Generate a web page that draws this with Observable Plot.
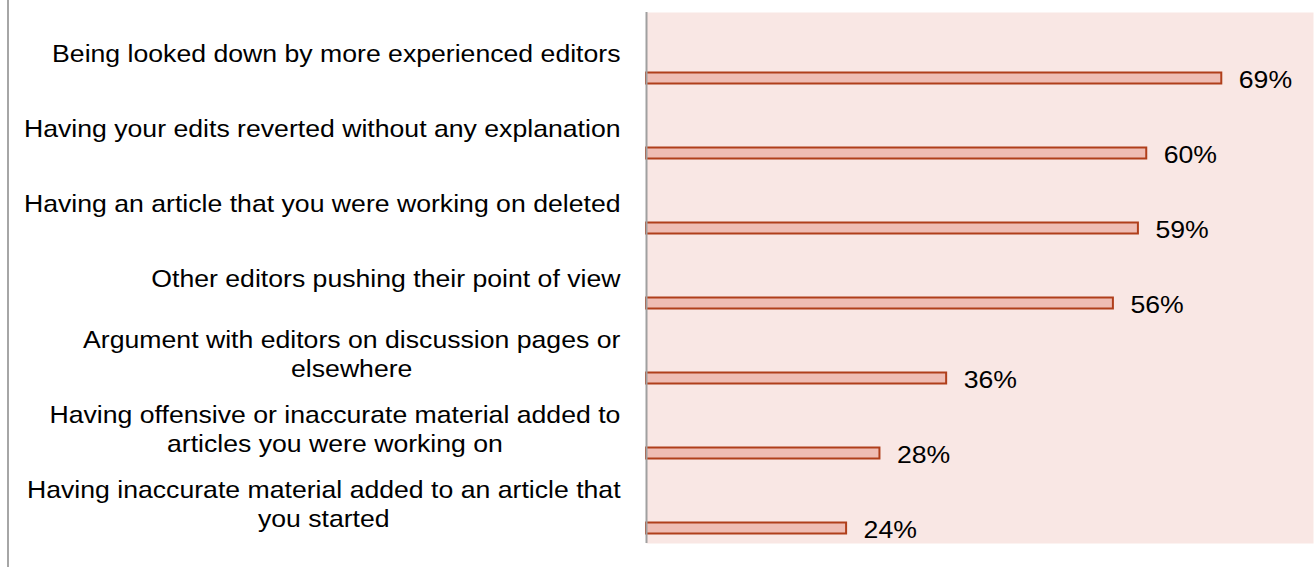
<!DOCTYPE html>
<html>
<head>
<meta charset="utf-8">
<script src="https://cdn.jsdelivr.net/npm/d3@7"></script>
<script src="https://cdn.jsdelivr.net/npm/@observablehq/plot@0.6"></script>
<style>
  body { margin: 0; background: #fff; }
  #wrap { position: relative; width: 1315px; height: 567px; }
  #leftline { position: absolute; left: 7px; top: 0; width: 2px; height: 567px; background: #a6a6a6; }
</style>
</head>
<body>
<div id="wrap"><div id="leftline"></div></div>
<script>
const categories = [
  "Being looked down by more experienced editors",
  "Having your edits reverted without any explanation",
  "Having an article that you were working on deleted",
  "Other editors pushing their point of view",
  "Argument with editors on discussion pages or\nelsewhere",
  "Having offensive or inaccurate material added to\narticles you were working on",
  "Having inaccurate material added to an article that\nyou started"
];
const values = [69, 60, 59, 56, 36, 28, 24];

const data = categories.map((c, i) => ({category: c, value: values[i]}));
const font = "Liberation Sans, Arial, sans-serif";

const chart = Plot.plot({
  width: 1315,
  height: 567,
  marginLeft: 646,
  marginRight: 2,
  marginTop: 12,
  marginBottom: 24,
  style: {fontFamily: font, background: "transparent"},
  x: {domain: [0, 80], axis: null},
  y: {domain: categories, padding: 0, axis: null},
  marks: [
    Plot.frame({fill: "#f9e7e4", stroke: null}),
    Plot.barX(data, {
      x: "value", y: "category",
      fill: "#efbdb4", stroke: "#b03f1b", strokeWidth: 2,
      insetTop: 57.5, insetBottom: 6.5
    }),
    Plot.ruleX([0], {stroke: "#a0a0a0", strokeWidth: 2}),
    Plot.text(data, {
      x: "value", y: "category", text: d => d.value + "%",
      textAnchor: "start", dx: 17, dy: 27.5, fontSize: 24, fill: "#000",
      className: "vallabels"
    }),
    Plot.text(data, {
      y: "category", text: "category", frameAnchor: "left",
      textAnchor: "end", dx: -26, fontSize: 24, lineHeight: 1.2, fill: "#000",
      className: "catlabels"
    })
  ]
});
document.getElementById("wrap").appendChild(chart);

// center each multi-line label's lines within its block (block stays right-aligned)
chart.querySelectorAll(".catlabels text").forEach(t => {
  const tspans = t.querySelectorAll("tspan");
  if (tspans.length > 1) {
    const bb = t.getBBox();
    t.style.textAnchor = "middle";
    tspans.forEach(ts => ts.setAttribute("x", bb.x + bb.width / 2));
  }
});
// the reference's lettering is slightly wider than tall
chart.querySelectorAll(".catlabels text, .vallabels text").forEach(t => {
  const tr = t.getAttribute("transform") || "";
  t.setAttribute("transform", tr + " scale(1.11,1)");
});
</script>
</body>
</html>
